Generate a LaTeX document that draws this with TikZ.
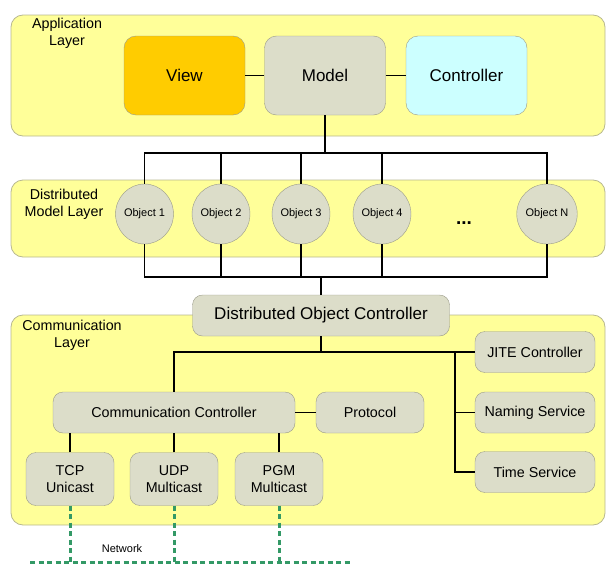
\documentclass[tikz,border=0pt]{standalone}
\usepackage{fontspec}
\setmainfont{Liberation Sans}
\usepackage{tikz}
\usetikzlibrary{positioning,calc,shapes.geometric}
\definecolor{layeryellow}{HTML}{FFFF99}
\definecolor{layeredge}{HTML}{B8B890}
\definecolor{boxfill}{HTML}{DCDDC9}
\definecolor{boxedge}{HTML}{9A9A88}
\definecolor{viewgold}{HTML}{FFCC00}
\definecolor{ctrlcyan}{HTML}{CCFFFF}
\definecolor{netgreen}{HTML}{339966}

\begin{document}
\begin{tikzpicture}[
    x=1pt, y=-1pt,
    layer/.style={draw=layeredge, fill=layeryellow, rounded corners=12pt,
                  line width=0.8pt},
    layerlabel/.style={font=\fontsize{14.3}{17}\selectfont, align=center},
    mvc/.style={draw=boxedge, rounded corners=12pt, minimum width=121pt,
                minimum height=79pt, font=\fontsize{17}{20}\selectfont},
    obj/.style={draw=boxedge, fill=boxfill, ellipse, minimum width=57pt,
                minimum height=60pt, inner sep=0pt,
                font=\fontsize{11}{13}\selectfont},
    box/.style={draw=boxedge, fill=boxfill, rounded corners=10pt,
                minimum height=41pt, font=\fontsize{14.3}{17}\selectfont},
    wire/.style={line width=1.8pt},
    net/.style={draw=netgreen, line width=3pt, dash pattern=on 5pt off 3.5pt},
]
\useasboundingbox (0,0) rectangle (606,565);

% layers
\node[layer, minimum width=594pt, minimum height=121pt] (applayer) at (308,75.5) {};
\node[layerlabel] at (67,33.5) {Application\\Layer};
\node[layer, minimum width=594pt, minimum height=77pt] (dmlayer) at (308,218.5) {};
\node[layerlabel] at (64,204.5) {Distributed\\Model Layer};
\node[layer, minimum width=594pt, minimum height=210pt] (commlayer) at (308,420) {};
\node[layerlabel] at (72,335.5) {Communication\\Layer};

% application layer
\node[mvc, fill=viewgold] (view) at (184.5,75.5) {View};
\node[mvc, fill=boxfill] (model) at (325,75.5) {Model};
\node[mvc, fill=ctrlcyan] (controller) at (466.5,75.5) {Controller};

% distributed objects
\node[obj] (obj1) at (144.5,214) {Object 1};
\node[obj] (obj2) at (221,214) {Object 2};
\node[obj] (obj3) at (301,214) {Object 3};
\node[obj] (obj4) at (382,214) {Object 4};
\node[font=\fontsize{19}{20}\selectfont\bfseries] (dots) at (464,223) {...};
\node[obj] (objN) at (547,214) {Object N};

\node[box, minimum width=257pt, minimum height=41pt,
      font=\fontsize{17}{20}\selectfont] (doc) at (321,315.5) {Distributed Object Controller};

% communication layer
\node[box, minimum width=120pt] (jite) at (535,352) {JITE Controller};
\node[box, minimum width=120pt] (naming) at (535,412.5) {Naming Service};
\node[box, minimum width=120pt] (time) at (535,472) {Time Service};
\node[box, minimum width=242pt] (cc) at (174,412.5) {Communication Controller};
\node[box, minimum width=108pt] (protocol) at (370,412.5) {Protocol};
\node[box, minimum width=88pt, minimum height=53pt, align=center] (tcp) at (70,479) {TCP\\Unicast};
\node[box, minimum width=88pt, minimum height=53pt, align=center] (udp) at (174,479) {UDP\\Multicast};
\node[box, minimum width=88pt, minimum height=53pt, align=center] (pgm) at (279,479) {PGM\\Multicast};

\coordinate (topbus) at (325,153);
\coordinate (botbus) at (321,277);
\coordinate (tap) at (455,352);
\coordinate (netL) at (30,562);
\coordinate (netR) at (350,562);

% wires
\draw[wire] (view) -- (model);
\draw[wire] (model) -- (controller);
\draw[wire] (model.south) -- (topbus);
\draw[wire] (obj1.north) |- (topbus) -| (objN.north);
\draw[wire] (obj2.north) -- (obj2.north |- topbus);
\draw[wire] (obj3.north) -- (obj3.north |- topbus);
\draw[wire] (obj4.north) -- (obj4.north |- topbus);
\draw[wire] (obj1.south) |- (botbus) -| (objN.south);
\draw[wire] (obj2.south) -- (obj2.south |- botbus);
\draw[wire] (obj3.south) -- (obj3.south |- botbus);
\draw[wire] (obj4.south) -- (obj4.south |- botbus);
\draw[wire] (botbus) -- (doc.north);
\draw[wire] (doc.south) -- (doc.south |- jite.west);
\draw[wire] (cc.north) |- (jite.west);
\draw[wire] (tap) |- (time.west);
\draw[wire] (tap |- naming.west) -- (naming.west);
\draw[wire] (cc) -- (protocol);
\draw[wire] (tcp.north) -- (tcp.north |- cc.south);
\draw[wire] (udp.north) -- (udp.north |- cc.south);
\draw[wire] (pgm.north) -- (pgm.north |- cc.south);

% network
\draw[net] (tcp.south) -- (tcp.south |- netL);
\draw[net] (udp.south) -- (udp.south |- netL);
\draw[net] (pgm.south) -- (pgm.south |- netL);
\draw[net] (netL) -- (netR);
\node[font=\fontsize{11}{12}\selectfont] (network) at (122,549) {Network};

\end{tikzpicture}
\end{document}
